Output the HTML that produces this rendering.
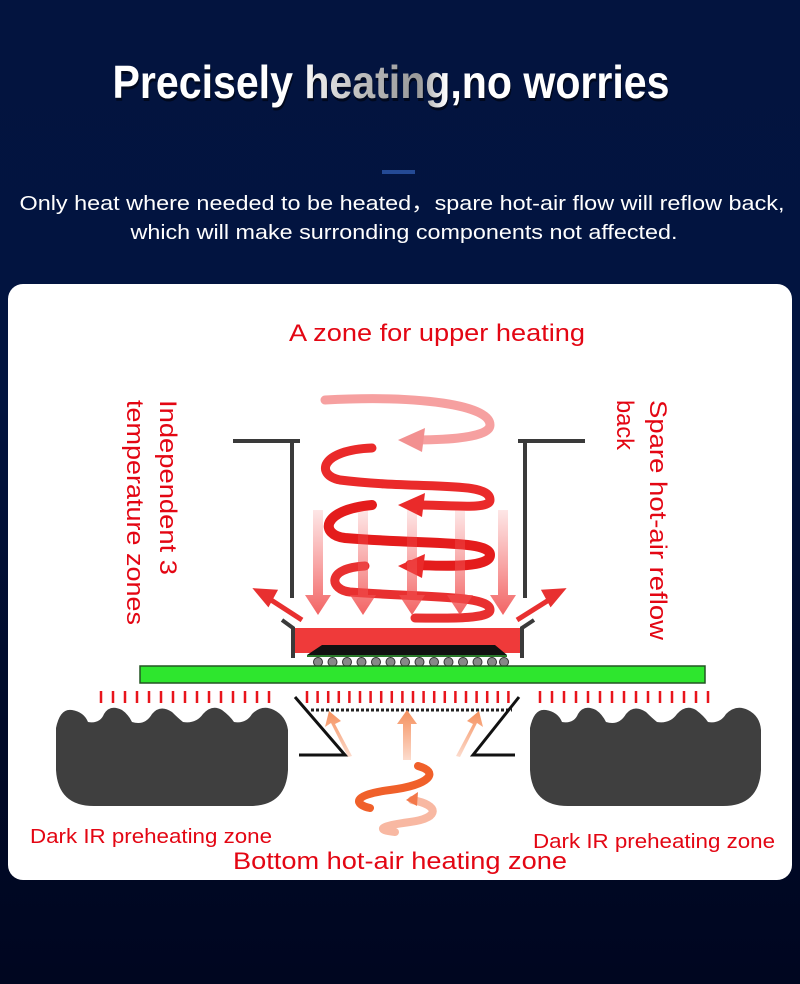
<!DOCTYPE html>
<html><head><meta charset="utf-8"><style>
html,body{margin:0;padding:0;}
body{width:800px;height:984px;overflow:hidden;background:linear-gradient(#03143f 0%,#021440 40%,#010a28 75%,#000620 100%);}
svg{display:block}
</style></head><body>
<svg width="800" height="984" viewBox="0 0 800 984" xmlns="http://www.w3.org/2000/svg" font-family="Liberation Sans, sans-serif">
<defs>
<linearGradient id="tg" x1="0" x2="1"><stop offset="0" stop-color="#fff"/><stop offset="0.33" stop-color="#fff"/><stop offset="0.45" stop-color="#bbb"/><stop offset="0.55" stop-color="#999"/><stop offset="0.6" stop-color="#fff"/><stop offset="1" stop-color="#fff"/></linearGradient>
<linearGradient id="da" x1="0" y1="0" x2="0" y2="1"><stop offset="0" stop-color="#f25a5a" stop-opacity="0.15"/><stop offset="1" stop-color="#f04848" stop-opacity="0.85"/></linearGradient>
<linearGradient id="ba" x1="0" y1="1" x2="0" y2="0"><stop offset="0" stop-color="#f58a5a" stop-opacity="0.3"/><stop offset="1" stop-color="#f5905c"/></linearGradient>
</defs>
<text x="392" y="101" fill="#000" opacity="0.5" font-size="46" font-weight="bold" text-anchor="middle" textLength="557" lengthAdjust="spacingAndGlyphs">Precisely heating,no worries</text>
<text x="391" y="98" fill="url(#tg)" font-size="46" font-weight="bold" text-anchor="middle" textLength="557" lengthAdjust="spacingAndGlyphs">Precisely heating,no worries</text>
<rect x="382" y="170" width="33" height="4" fill="#244a95"/>
<text x="402" y="210" fill="#fff" font-size="20" text-anchor="middle" textLength="765" lengthAdjust="spacingAndGlyphs">Only heat where needed to be heated，spare hot-air flow will reflow back,</text>
<text x="404" y="239" fill="#fff" font-size="20" text-anchor="middle" textLength="547" lengthAdjust="spacingAndGlyphs">which will make surronding components not affected.</text>
<rect x="8" y="284" width="784" height="596" rx="15" fill="#fff"/>
<g fill="#e30613">
<text x="437" y="341" font-size="24" text-anchor="middle" textLength="296" lengthAdjust="spacingAndGlyphs">A zone for upper heating</text>
<text transform="translate(160,400) rotate(90)" font-size="24" textLength="175" lengthAdjust="spacingAndGlyphs">Independent 3</text>
<text transform="translate(127,400) rotate(90)" font-size="24" textLength="225" lengthAdjust="spacingAndGlyphs">temperature zones</text>
<text transform="translate(650,400) rotate(90)" font-size="24" textLength="240" lengthAdjust="spacingAndGlyphs">Spare hot-air reflow</text>
<text transform="translate(617,400) rotate(90)" font-size="24" textLength="50" lengthAdjust="spacingAndGlyphs">back</text>
<text x="30" y="843" font-size="20" textLength="242" lengthAdjust="spacingAndGlyphs">Dark IR preheating zone</text>
<text x="533" y="848" font-size="20" textLength="242" lengthAdjust="spacingAndGlyphs">Dark IR preheating zone</text>
<text x="233" y="869" font-size="24" textLength="334" lengthAdjust="spacingAndGlyphs">Bottom hot-air heating zone</text>
</g>
<g stroke="#3a3a3a" stroke-width="4" fill="none">
<path d="M233 441H300M292 441V598"/>
<path d="M518 441H585M525 441V598"/>
<path d="M282 620L293 628V658M534 620L522 628V658"/>
</g>
<g fill="none" stroke-linecap="round">
<path d="M325 400 C420 395 490 405 490 425 C490 440 430 440 410 440" stroke="#f6a0a0" stroke-width="9"/>
<path d="M372 448 C320 450 315 475 340 480 C420 490 490 480 490 500 C490 510 450 505 420 505" stroke="#ea2a2a" stroke-width="9"/>
<path d="M372 505 C320 510 320 535 345 538 C430 545 490 540 490 555 C490 570 430 565 410 565" stroke="#e41c1c" stroke-width="10"/>
<path d="M365 566 C325 568 330 590 350 592 C430 598 490 595 490 610 C490 620 440 618 415 618" stroke="#e83030" stroke-width="9"/>
</g>
<g fill="#ea2a2a">
<path d="M398 440L425 428L422 452Z" fill="#f29090"/>
<path d="M398 505L425 493L422 517Z"/>
<path d="M398 566L425 554L422 578Z"/>
</g>
<g fill="url(#da)">
<path d="M313 510h10v85h8l-13 20l-13-20h8z"/>
<path d="M358 510h10v85h8l-13 20l-13-20h8z"/>
<path d="M407 510h10v85h8l-13 20l-13-20h8z"/>
<path d="M455 510h10v85h8l-13 20l-13-20h8z"/>
<path d="M498 510h10v85h8l-13 20l-13-20h8z"/>
</g>
<g stroke="#e83030" stroke-width="5" fill="#e83030">
<path d="M302 620L268 598" fill="none"/><path d="M258 591l16 1l-6 11z"/>
<path d="M517 620L552 598" fill="none"/><path d="M561 591l-16 1l6 11z"/>
</g>
<rect x="295" y="628" width="225" height="25" fill="#ef3a3a"/>
<path d="M307 655L322 645H495L507 655Z" fill="#111"/>
<rect x="307" y="655" width="200" height="2" fill="#2a7a2a"/>
<g fill="#888" stroke="#333" stroke-width="1">
<circle cx="318" cy="662" r="4.5"/><circle cx="332.5" cy="662" r="4.5"/><circle cx="347" cy="662" r="4.5"/><circle cx="361.5" cy="662" r="4.5"/><circle cx="376" cy="662" r="4.5"/><circle cx="390.5" cy="662" r="4.5"/><circle cx="405" cy="662" r="4.5"/><circle cx="419.5" cy="662" r="4.5"/><circle cx="434" cy="662" r="4.5"/><circle cx="448.5" cy="662" r="4.5"/><circle cx="463" cy="662" r="4.5"/><circle cx="477.5" cy="662" r="4.5"/><circle cx="492" cy="662" r="4.5"/><circle cx="504" cy="662" r="4.5"/>
</g>
<rect x="140" y="666" width="565" height="17" fill="#2ee62e" stroke="#225522" stroke-width="1.5"/>
<g stroke="#e8151c" stroke-width="2.5">
<path d="M101 691v12M113 691v12M125 691v12M137 691v12M149 691v12M161 691v12M173 691v12M185 691v12M197 691v12M209 691v12M221 691v12M233 691v12M245 691v12M257 691v12M269 691v12"/>
<path d="M307 691v12M317.6 691v12M328.2 691v12M338.8 691v12M349.4 691v12M360 691v12M370.6 691v12M381.2 691v12M391.8 691v12M402.4 691v12M413 691v12M423.6 691v12M434.2 691v12M444.8 691v12M455.4 691v12M466 691v12M476.6 691v12M487.2 691v12M497.8 691v12M508.4 691v12"/>
<path d="M540 691v12M552 691v12M564 691v12M576 691v12M588 691v12M600 691v12M612 691v12M624 691v12M636 691v12M648 691v12M660 691v12M672 691v12M684 691v12M696 691v12M708 691v12"/>
</g>
<g fill="#3f3f3f">
<path d="M56 728 Q60 708 72 710 Q84 712 88 722 Q100 724 104 714 Q110 704 122 710 Q128 714 132 722 Q145 726 152 714 Q160 704 172 712 Q178 718 183 722 Q196 724 203 714 Q212 704 222 710 Q230 716 234 722 Q246 724 252 714 Q262 704 274 710 Q286 716 288 730 V770 Q286 806 250 806 H94 Q58 806 56 770 Z"/>
<path d="M530 728 Q534 708 546 710 Q558 712 562 722 Q574 724 578 714 Q584 704 596 710 Q602 714 606 722 Q619 726 626 714 Q634 704 646 712 Q652 718 657 722 Q670 724 677 714 Q686 704 696 710 Q704 716 708 722 Q720 724 726 714 Q736 704 748 710 Q760 716 761 730 V770 Q759 806 723 806 H568 Q532 806 530 770 Z"/>
</g>
<path d="M311 710H512" stroke="#222" stroke-width="3" stroke-dasharray="3 2"/>
<g stroke="#111" stroke-width="3" fill="none">
<path d="M295 697L345 755H299"/>
<path d="M519 697L473 755H515"/>
</g>
<g fill="url(#ba)">
<path d="M348 757l-17-34l-6 4l4-16l12 10l-6 3l17 32z"/>
<path d="M403 760v-36h-6l10-14l10 14h-6v36z"/>
<path d="M460 757l17-34l6 4l-4-16l-12 10l6 3l-17 32z"/>
</g>
<path d="M418 766 C440 772 430 785 390 790 C350 795 355 805 370 808" fill="none" stroke="#f0602a" stroke-width="8" stroke-linecap="round"/>
<path d="M412 800 C440 805 440 818 410 822 C380 826 375 830 395 832" fill="none" stroke="#f59a7a" stroke-width="8" stroke-linecap="round" opacity="0.7"/>
<path d="M406 800l12-8l-1 14z" fill="#f3784a"/>
</svg>
</body></html>
